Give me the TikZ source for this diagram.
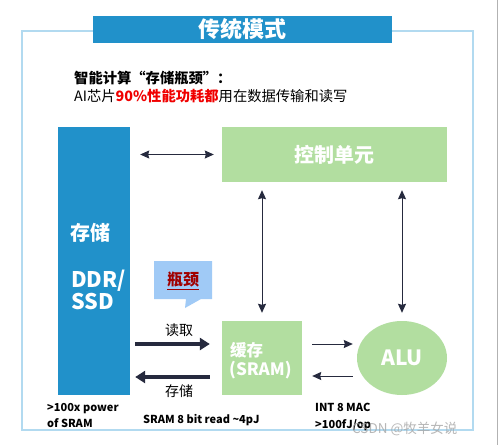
\documentclass[tikz,border=0pt]{standalone}
\usepackage{fontspec}
\setmainfont{Noto Sans CJK SC}
\usetikzlibrary{arrows.meta,shapes.geometric}
\definecolor{colblue}{RGB}{33,145,202}
\definecolor{colgreen}{RGB}{178,222,160}
\definecolor{colframe}{RGB}{178,218,240}
\definecolor{colarrow}{RGB}{38,42,62}
\definecolor{colcallout}{RGB}{160,202,246}
\definecolor{colred}{RGB}{240,0,0}
\definecolor{coldred}{RGB}{160,0,0}
\tikzset{
  whitebold/.style={text=white,font=\bfseries},
  greenbox/.style={fill=colgreen,draw=none,inner sep=0pt},
  thinarrow/.style={draw=colarrow,line width=1pt,-{Stealth[length=9pt,width=8pt,inset=1pt]}},
  thinboth/.style={draw=colarrow,line width=1pt,{Stealth[length=9pt,width=8pt,inset=1pt]}-{Stealth[length=9pt,width=8pt,inset=1pt]}},
  thickarrow/.style={draw=colarrow,line width=3.6pt,-{Stealth[length=10pt,width=12pt,inset=0pt]}},
  smalltxt/.style={font=\fontsize{11}{12}\selectfont\bfseries,anchor=base west,inner sep=0pt},
}
\begin{document}
\begin{tikzpicture}[x=1pt,y=-1pt]
\useasboundingbox (0,0) rectangle (498,445);
\fill[white] (0,0) rectangle (498,445);
% outer frame
\draw[colframe,line width=1.6pt] (22,31) rectangle (473,430);
\draw[gray!60,line width=0.8pt] (497,0) -- (497,445);
% title
\node[fill=colblue,minimum width=299pt,minimum height=27pt,inner sep=0pt,
      font=\fontsize{22}{24}\selectfont\bfseries,text=white] (title) at (242.5,29.5) {传统模式};
% intro text
\node[anchor=base west,inner sep=0pt,font=\fontsize{14.3}{16}\selectfont\bfseries] (line1) at (74,83) {智能计算“存储瓶颈”：};
\node[anchor=base west,inner sep=0pt,font=\fontsize{14.3}{16}\selectfont] (line2) at (74,101)
  {AI芯片{\bfseries\color{colred}90\%性能功耗都}用在数据传输和读写};
% memory column
\node[fill=colblue,minimum width=72pt,minimum height=268pt,inner sep=0pt] (mem) at (94,261) {};
\node[whitebold,anchor=base west,inner sep=0pt,font=\fontsize{20}{22}\selectfont\bfseries] (memA) at (70,240) {存储};
\node[whitebold,anchor=base west,inner sep=0pt,font=\fontsize{21.5}{23}\selectfont\bfseries] (memB) at (71,287) {DDR/};
\node[whitebold,anchor=base west,inner sep=0pt,font=\fontsize{21.5}{23}\selectfont\bfseries] (memC) at (71,309) {SSD};
% control unit
\node[greenbox,minimum width=225pt,minimum height=55pt,font=\fontsize{20}{22}\selectfont\bfseries,text=white] (ctrl) at (334.5,154.5) {控制单元};
% cache
\node[greenbox,minimum width=80pt,minimum height=74pt] (cache) at (262,358) {};
\node[whitebold,anchor=base west,inner sep=0pt,font=\fontsize{16.5}{18}\selectfont\bfseries] (cacheA) at (230,356) {缓存};
\node[whitebold,anchor=base west,inner sep=0pt,font=\fontsize{17}{18}\selectfont\bfseries] (cacheB) at (229,375) {(SRAM)};
% ALU
\node[ellipse,fill=colgreen,minimum width=90pt,minimum height=74pt,inner sep=0pt,font=\fontsize{21}{23}\selectfont\bfseries,text=white] (alu) at (402,358) {ALU};
% callout
\fill[colcallout] (154,261) -- (212,261) -- (212,299) -- (201,299) -- (185,308) -- (186,299) -- (154,299) -- cycle;
\node[inner sep=0pt,font=\fontsize{16}{18}\selectfont\bfseries,text=coldred] (neck) at (183,281) {\underline{瓶颈}};
% arrows
\draw[thinboth,shorten <=10pt,shorten >=8pt] (mem.east |- ctrl.west) -- (ctrl.west);
\draw[thinboth,shorten <=8pt,shorten >=8pt] (cache.north) -- (cache.north |- ctrl.south);
\draw[thinboth,shorten <=8pt,shorten >=8pt] (alu.north) -- (alu.north |- ctrl.south);
\coordinate (rdL) at (mem.east |- 0,344);
\coordinate (rdR) at (cache.west |- 0,344);
\coordinate (stL) at (mem.east |- 0,377);
\coordinate (stR) at (cache.west |- 0,377);
\draw[thickarrow,shorten <=5pt,shorten >=12pt] (rdL) -- (rdR);
\draw[thickarrow,shorten <=12pt,shorten >=5pt] (stR) -- (stL);
\node[font=\fontsize{14}{16}\selectfont,inner sep=0pt] (rdlab) at (179,330) {读取};
\node[font=\fontsize{14}{16}\selectfont,inner sep=0pt] (stlab) at (179,391) {存储};
\coordinate (caL) at (cache.east |- 0,344);
\coordinate (caR) at (alu.west |- 0,344);
\coordinate (cbL) at (cache.east |- 0,376);
\coordinate (cbR) at (alu.west |- 0,376);
\draw[thinarrow,shorten <=10pt,shorten >=4pt] (caL) -- (caR);
\draw[thinarrow,shorten <=4pt,shorten >=10pt] (cbR) -- (cbL);
% bottom texts
\node[smalltxt] (t1) at (47,411) {>100x power};
\node[smalltxt] (t2) at (47,427) {of SRAM};
\node[smalltxt] (t3) at (143,423) {SRAM 8 bit read \textasciitilde4pJ};
\node[smalltxt] (t4) at (315,411) {INT 8 MAC};
\node[smalltxt] (t5) at (315,428) {>100fJ/op};
% watermark
\node[anchor=base west,inner sep=0pt,font=\fontsize{13.5}{16}\selectfont,text=gray!70,opacity=0.8] (wm) at (352,433) {CSDN @牧羊女说};
\end{tikzpicture}
\end{document}
